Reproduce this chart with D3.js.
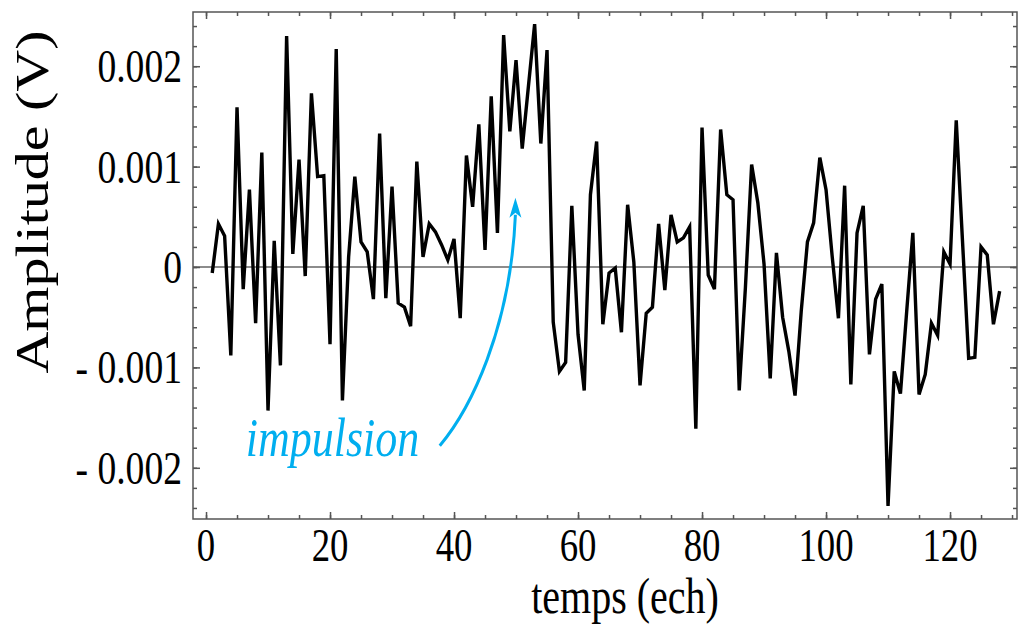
<!DOCTYPE html>
<html>
<head>
<meta charset="utf-8">
<script src="https://cdn.jsdelivr.net/npm/d3@7"></script>
<style>
  body { margin: 0; background: #fff; }
</style>
</head>
<body>
<div id="vis"></div>
<script>
// data: one sample per time step, 1..128
let samples = d3.range(1, 129)
let amplitude = [
  -0.00006, 0.00043, 0.00031, -0.00088, 0.00159, -0.00022, 0.00077, -0.00056, 0.00114, -0.00143,
  0.00026, -0.00098, 0.00230, 0.00013, 0.00107, -0.00009, 0.00173, 0.00090, 0.00091, -0.00077,
  0.00217, -0.00133, 0.00010, 0.00090, 0.00025, 0.00015, -0.00032, 0.00133, -0.00031, 0.00080,
  -0.00036, -0.00040, -0.00059, 0.00105, 0.00010, 0.00043, 0.00035, 0.00022, 0.00007, 0.00028,
  -0.00051, 0.00111, 0.00060, 0.00142, 0.00017, 0.00170, 0.00034, 0.00231, 0.00135, 0.00206,
  0.00118, 0.00180, 0.00242, 0.00123, 0.00216, -0.00055, -0.00104, -0.00095, 0.00061, -0.00067,
  -0.00123, 0.00072, 0.00125, -0.00057, -0.00006, -0.00001, -0.00065, 0.00062, 0.00005, -0.00118,
  -0.00046, -0.00040, 0.00043, -0.00023, 0.00052, 0.00025, 0.00029, 0.00040, -0.00161, 0.00139,
  -0.00008, -0.00022, 0.00137, 0.00072, 0.00067, -0.00123, -0.00020, 0.00102, 0.00064, 0.00003,
  -0.00111, 0.00014, -0.00050, -0.00084, -0.00128, -0.00044, 0.00025, 0.00044, 0.00109, 0.00077,
  0.00010, -0.00051, 0.00081, -0.00117, 0.00034, 0.00061, -0.00087, -0.00032, -0.00017, -0.00238,
  -0.00104, -0.00126, -0.00045, 0.00034, -0.00127, -0.00107, -0.00056, -0.00068, 0.00015, 0.00003,
  0.00146, 0.00027, -0.00091, -0.00090, 0.00020, 0.00012, -0.00057, -0.00024
]

// tick labels
let xTicks = [0, 20, 40, 60, 80, 100, 120]
let yTicks = [-0.002, -0.001, 0, 0.001, 0.002]
let yTickLabels = ["- 0.002", "- 0.001", "0", "0.001", "0.002"]

// annotation (data units)
let noteText = "impulsion"
let notePos = [6.4, -0.00188]
let arrowPts = [[37.7, -0.00178], [42.6, -0.00142], [49.1, -0.00062], [49.9, 0.00052]]
let arrowTip = [49.9, 0.00069]

let svgWidth = 1018
let svgHeight = 624
let margin = {left: 193, right: 1, top: 12, bottom: 105}
let width = svgWidth - margin.left - margin.right
let height = svgHeight - margin.top - margin.bottom
let sx = 0.8   // text is drawn a bit narrow
let serif = "'Liberation Serif', 'Times New Roman', Times, 'Nimbus Roman', FreeSerif, serif"

let root = d3.select('#vis')
    .append('svg')
    .attr('width', svgWidth)
    .attr('height', svgHeight)

let svg = root.append('g')
    .attr('transform', `translate(${margin.left},${margin.top})`)
    .attr('font-family', serif)

// scales
let xScale = d3.scaleLinear().domain([-2.1, 130.8]).range([0, width])
let yScale = d3.scaleLinear().domain([-0.00251, 0.00254]).range([height, 0])

// zero line
svg.append('line')
    .attr('x1', 0).attr('x2', width)
    .attr('y1', yScale(0)).attr('y2', yScale(0))
    .attr('stroke', '#666').attr('stroke-width', 1.5)

// signal
let line = d3.line()
    .x((d, i) => xScale(samples[i]))
    .y(d => yScale(d))

svg.append('path')
    .datum(amplitude)
    .attr('d', line)
    .attr('fill', 'none')
    .attr('stroke', '#000')
    .attr('stroke-width', 3.4)
    .attr('stroke-linejoin', 'miter')

// axes: ticks only, pointing inward, on all four sides
let xMinor = d3.range(0, 131, 5)
let yMinor = d3.range(-24, 25, 2).map(d => d / 10000)

function drawAxis(axis, tr) {
    let g = svg.append('g').attr('transform', tr).call(axis)
    g.selectAll('text').remove()
    g.select('.domain').remove()
    g.selectAll('line').attr('stroke', '#555').attr('stroke-width', 1.5)
}

drawAxis(d3.axisBottom(xScale).tickValues(xMinor).tickSize(-4).tickFormat(''), `translate(0,${height})`)
drawAxis(d3.axisBottom(xScale).tickValues(xTicks).tickSize(-7).tickFormat(''), `translate(0,${height})`)
drawAxis(d3.axisTop(xScale).tickValues(xMinor).tickSize(-4).tickFormat(''), 'translate(0,0)')
drawAxis(d3.axisTop(xScale).tickValues(xTicks).tickSize(-7).tickFormat(''), 'translate(0,0)')
drawAxis(d3.axisLeft(yScale).tickValues(yMinor).tickSize(-4).tickFormat(''), 'translate(0,0)')
drawAxis(d3.axisLeft(yScale).tickValues(yTicks).tickSize(-7).tickFormat(''), 'translate(0,0)')
drawAxis(d3.axisRight(yScale).tickValues(yMinor).tickSize(-4).tickFormat(''), `translate(${width},0)`)
drawAxis(d3.axisRight(yScale).tickValues(yTicks).tickSize(-7).tickFormat(''), `translate(${width},0)`)

// frame
svg.append('rect')
    .attr('width', width).attr('height', height)
    .attr('fill', 'none')
    .attr('stroke', '#555').attr('stroke-width', 1.5)

// tick labels
svg.selectAll('.xlab')
    .data(xTicks)
    .join('text')
    .attr('class', 'xlab')
    .attr('transform', d => `translate(${xScale(d)},${height + 42}) scale(${sx},1)`)
    .attr('text-anchor', 'middle')
    .attr('font-size', 46)
    .text(d => d)

svg.selectAll('.ylab')
    .data(yTicks)
    .join('text')
    .attr('class', 'ylab')
    .attr('transform', d => `translate(-11,${yScale(d) + 16}) scale(${sx},1)`)
    .attr('text-anchor', 'end')
    .attr('font-size', 47)
    .text((d, i) => yTickLabels[i])

// axis titles
svg.append('text')
    .attr('transform', `translate(${width / 2 + 20},${height + 94}) scale(${sx},1)`)
    .attr('text-anchor', 'middle')
    .attr('font-size', 50)
    .text('temps (ech)')

svg.append('text')
    .attr('transform', `translate(${48 - margin.left},${190}) scale(${sx},1) rotate(-90)`)
    .attr('text-anchor', 'middle')
    .attr('font-size', 58)
    .text('Amplitude (V)')

// annotation
let blue = '#00aeef'
svg.append('text')
    .attr('transform', `translate(${xScale(notePos[0])},${yScale(notePos[1])}) scale(${sx},1)`)
    .attr('font-size', 55)
    .attr('font-style', 'italic')
    .attr('fill', blue)
    .text(noteText)

let p = arrowPts.map(d => [xScale(d[0]), yScale(d[1])])
svg.append('path')
    .attr('d', `M${p[0]}C${p[1]} ${p[2]} ${p[3]}`)
    .attr('fill', 'none')
    .attr('stroke', blue)
    .attr('stroke-width', 3)

let tx = xScale(arrowTip[0]), ty = yScale(arrowTip[1])
svg.append('path')
    .attr('d', `M${tx},${ty}L${tx - 6},${ty + 20}L${tx},${ty + 15}L${tx + 6},${ty + 20}Z`)
    .attr('fill', blue)
</script>
</body>
</html>
